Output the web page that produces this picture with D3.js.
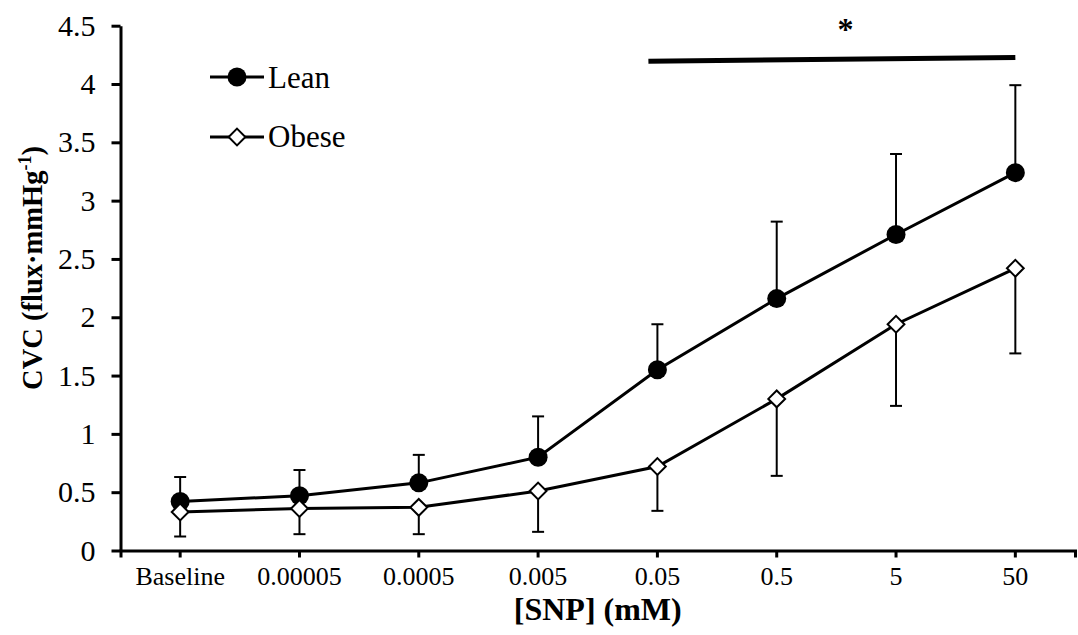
<!DOCTYPE html>
<html>
<head>
<meta charset="utf-8">
<script src="https://cdn.jsdelivr.net/npm/d3@7"></script>
<style>
  body { margin: 0; background: #fff; }
  svg { display: block; font-family: "Liberation Serif", "Times New Roman", serif; }
</style>
</head>
<body>
<svg id="chart" width="1078" height="635"></svg>
<script>
//---- Data -------------------------------------------------------------------------------------------------
var categories = ["Baseline", "0.00005", "0.0005", "0.005", "0.05", "0.5", "5", "50"];
var leanMean = [0.42, 0.47, 0.58, 0.80, 1.55, 2.16, 2.71, 3.24];
var leanErr = [0.21, 0.22, 0.24, 0.35, 0.39, 0.66, 0.69, 0.75];   // drawn upward only
var obeseMean = [0.33, 0.36, 0.37, 0.51, 0.72, 1.30, 1.94, 2.42];
var obeseErr = [0.21, 0.22, 0.23, 0.35, 0.38, 0.66, 0.70, 0.73]; // drawn downward only
var yTicks = [0, 0.5, 1, 1.5, 2, 2.5, 3, 3.5, 4, 4.5];
var sigBar = { from: "0.05", to: "50", yFrom: 4.195, yTo: 4.228, label: "*" };

//---- Layout -----------------------------------------------------------------------------------------------
var svg = d3.select("#chart");
var plot = { left: 120.5, right: 1075, top: 25.7, bottom: 550.5 };

var x = d3.scaleBand().domain(categories).range([plot.left, plot.right]).padding(0);
var cx = function (c) { return x(c) + x.bandwidth() / 2; };
var y = d3.scaleLinear().domain([0, 4.5]).range([plot.bottom, plot.top]);

// y axis
var yAxis = svg.append("g")
  .attr("transform", "translate(" + plot.left + ",0)")
  .call(d3.axisLeft(y).tickValues(yTicks).tickFormat(d3.format("")).tickSize(9).tickSizeOuter(0).tickPadding(16));
yAxis.select(".domain").attr("stroke-width", 3);
yAxis.selectAll(".tick line").attr("stroke-width", 3);
yAxis.selectAll("text").attr("font-size", 30).attr("fill", "#000").attr("font-family", "Liberation Serif");

// x axis
var xAxis = svg.append("g")
  .attr("transform", "translate(0," + plot.bottom + ")")
  .call(d3.axisBottom(x).tickSize(7).tickSizeOuter(7).tickPadding(9));
xAxis.select(".domain").attr("stroke-width", 3);
xAxis.selectAll(".tick line").attr("stroke-width", 3);
xAxis.selectAll("text").attr("font-size", 26).attr("fill", "#000").attr("font-family", "Liberation Serif");

//---- Series -----------------------------------------------------------------------------------------------
var lean = categories.map(function (c, i) { return { c: c, v: leanMean[i], e: leanErr[i] }; });
var obese = categories.map(function (c, i) { return { c: c, v: obeseMean[i], e: obeseErr[i] }; });

var line = d3.line().x(function (d) { return cx(d.c); }).y(function (d) { return y(d.v); });

function drawErrors(data, dir) {
  var g = svg.append("g").attr("stroke", "#000").attr("stroke-width", 2);
  data.forEach(function (d) {
    var end = y(d.v + dir * d.e);
    g.append("line").attr("x1", cx(d.c)).attr("x2", cx(d.c)).attr("y1", y(d.v)).attr("y2", end);
    g.append("line").attr("x1", cx(d.c) - 6).attr("x2", cx(d.c) + 6).attr("y1", end).attr("y2", end);
  });
}
drawErrors(lean, 1);
drawErrors(obese, -1);

svg.append("path").datum(lean).attr("d", line).attr("fill", "none").attr("stroke", "#000").attr("stroke-width", 3);
svg.append("path").datum(obese).attr("d", line).attr("fill", "none").attr("stroke", "#000").attr("stroke-width", 3);

var diamond = d3.symbol().type(d3.symbolDiamond2).size(180);

svg.append("g").selectAll("circle").data(lean).join("circle")
  .attr("cx", function (d) { return cx(d.c); })
  .attr("cy", function (d) { return y(d.v); })
  .attr("r", 9.5).attr("fill", "#000");

svg.append("g").selectAll("path").data(obese).join("path")
  .attr("d", diamond)
  .attr("transform", function (d) { return "translate(" + cx(d.c) + "," + y(d.v) + ")"; })
  .attr("fill", "#fff").attr("stroke", "#000").attr("stroke-width", 2);

//---- Significance bar -------------------------------------------------------------------------------------
svg.append("line")
  .attr("x1", cx(sigBar.from) - 9).attr("x2", cx(sigBar.to))
  .attr("y1", y(sigBar.yFrom)).attr("y2", y(sigBar.yTo))
  .attr("stroke", "#000").attr("stroke-width", 5);
svg.append("text")
  .attr("x", (cx(sigBar.from) + cx(sigBar.to)) / 2 + 9).attr("y", 40)
  .attr("text-anchor", "middle").attr("font-size", 32).attr("font-weight", "bold")
  .text(sigBar.label);

//---- Legend -----------------------------------------------------------------------------------------------
var legend = svg.append("g");
legend.append("line").attr("x1", 210).attr("x2", 264).attr("y1", 77).attr("y2", 77).attr("stroke", "#000").attr("stroke-width", 3);
legend.append("circle").attr("cx", 237).attr("cy", 77).attr("r", 9.5).attr("fill", "#000");
legend.append("text").attr("x", 268).attr("y", 88).attr("font-size", 31).text("Lean");
legend.append("line").attr("x1", 210).attr("x2", 264).attr("y1", 137).attr("y2", 137).attr("stroke", "#000").attr("stroke-width", 3);
legend.append("path").attr("d", diamond).attr("transform", "translate(237,137)").attr("fill", "#fff").attr("stroke", "#000").attr("stroke-width", 2);
legend.append("text").attr("x", 268).attr("y", 147).attr("font-size", 31).text("Obese");

//---- Axis titles ------------------------------------------------------------------------------------------
var yTitle = svg.append("text")
  .attr("transform", "translate(42,268) rotate(-90)")
  .attr("text-anchor", "middle").attr("font-size", 28.5).attr("font-weight", "bold");
yTitle.append("tspan").text("CVC (flux\u00b7mmHg");
yTitle.append("tspan").attr("font-size", 18).attr("dy", -11).text("-1");
yTitle.append("tspan").attr("dy", 11).text(")");

svg.append("text")
  .attr("x", (plot.left + plot.right) / 2).attr("y", 620)
  .attr("text-anchor", "middle").attr("font-size", 32).attr("font-weight", "bold")
  .text("[SNP] (mM)");
</script>
</body>
</html>
